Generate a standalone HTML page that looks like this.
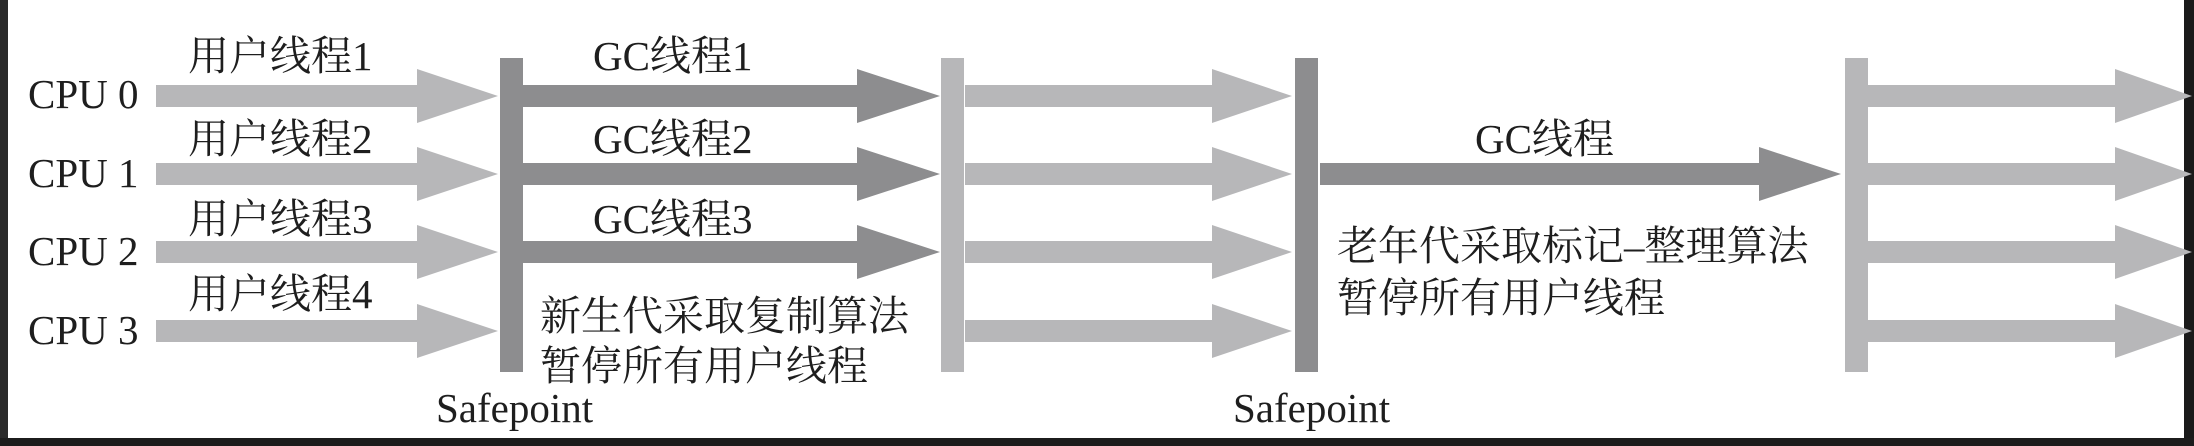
<!DOCTYPE html>
<html><head><meta charset="utf-8">
<style>
html,body{margin:0;padding:0;background:#fff;}
svg{display:block;}
text{font-family:"Liberation Serif","Noto Serif CJK SC","Noto Sans CJK SC",serif;fill:#1e1e1e;font-size:41px;}
</style></head>
<body>
<svg id="c" width="2194" height="446" viewBox="0 0 2194 446">
<rect x="0" y="0" width="2194" height="446" fill="#fff"/>
<rect x="0" y="0" width="8" height="446" fill="#2a2a2a"/>
<rect x="2184" y="0" width="10" height="446" fill="#1a1a1a"/>
<rect x="0" y="438" width="2194" height="8" fill="#1c1c1c"/>
<g id="marks"></g>
<g>
<text x="28" y="108">CPU 0</text>
<text x="28" y="187">CPU 1</text>
<text x="28" y="265">CPU 2</text>
<text x="28" y="344">CPU 3</text>
</g>
<g>
<text x="188" y="70">用户线程1</text>
<text x="188" y="153">用户线程2</text>
<text x="188" y="233">用户线程3</text>
<text x="188" y="308">用户线程4</text>
<text x="593" y="70">GC线程1</text>
<text x="593" y="153">GC线程2</text>
<text x="593" y="233">GC线程3</text>
<text x="1475" y="153">GC线程</text>
</g>
<g>
<text x="540" y="330">新生代采取复制算法</text>
<text x="540" y="380">暂停所有用户线程</text>
<text x="1337" y="260">老年代采取标记–整理算法</text>
<text x="1337" y="312">暂停所有用户线程</text>
<text x="436" y="422">Safepoint</text>
<text x="1233" y="422">Safepoint</text>
</g>
</svg>
<script>
var rowY = [96, 174, 252, 331];
// segments: [startX, headStartX, tipX, rows, colorKey]
var segStart = [156, 523, 965, 1320, 1868];
var segHead = [417, 857, 1212, 1759, 2115];
var segTip = [498, 940, 1292, 1841, 2192];
var segRows = [[0,1,2,3],[0,1,2],[0,1,2,3],[1],[0,1,2,3]];
var segDark = [false, true, false, true, false];
var barX = [500, 941, 1295, 1845];
var barDark = [true, false, true, false];
var LIGHT = "#b7b7b9", DARK = "#8d8d8f";
var g = document.getElementById('marks');
var NS = "http://www.w3.org/2000/svg";
for (var s = 0; s < segStart.length; s++) {
  for (var k = 0; k < segRows[s].length; k++) {
    var r = segRows[s][k], y = rowY[r];
    var p = document.createElementNS(NS, 'polygon');
    p.setAttribute('points', [segStart[s]+','+(y-11), segHead[s]+','+(y-11), segHead[s]+','+(y-27),
      segTip[s]+','+y, segHead[s]+','+(y+27), segHead[s]+','+(y+11), segStart[s]+','+(y+11)].join(' '));
    p.setAttribute('fill', segDark[s] ? DARK : LIGHT);
    
    
    g.appendChild(p);
  }
}
for (var b = 0; b < barX.length; b++) {
  var rc = document.createElementNS(NS, 'rect');
  rc.setAttribute('x', barX[b]); rc.setAttribute('y', 58);
  rc.setAttribute('width', 23); rc.setAttribute('height', 314);
  rc.setAttribute('fill', barDark[b] ? DARK : LIGHT);
  
  
  g.appendChild(rc);
}
</script>
</body></html>
